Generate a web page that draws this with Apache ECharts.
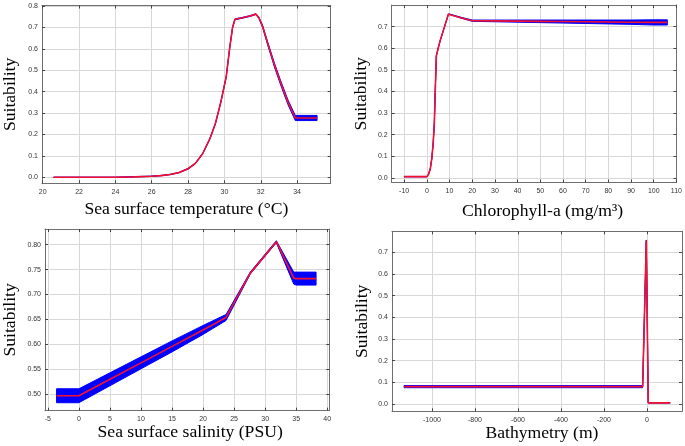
<!DOCTYPE html>
<html>
<head>
<meta charset="utf-8">
<script src="https://cdn.jsdelivr.net/npm/echarts@6/dist/echarts.min.js"></script>
<style>
html,body{margin:0;padding:0;background:#fff;}
#chart{width:685px;height:446px;}
</style>
</head>
<body>
<div id="chart"></div>
<script>
// ---------- Data ----------
// Panel 1: Sea surface temperature
var sstX    = [20.6, 22, 24, 25, 26, 26.5, 27, 27.5, 28, 28.4, 28.8, 29.2, 29.5, 29.8, 30.1, 30.3, 30.45, 30.58, 31.0, 31.4, 31.73, 31.9, 32.1, 32.4, 32.75, 33.1, 33.5, 33.9, 34.5, 35.1];
var sstMean = [0, 0, 0, 0.002, 0.005, 0.008, 0.013, 0.022, 0.04, 0.065, 0.11, 0.18, 0.25, 0.35, 0.47, 0.61, 0.70, 0.738, 0.745, 0.753, 0.762, 0.745, 0.705, 0.62, 0.525, 0.44, 0.35, 0.277, 0.277, 0.277];
var sstBand = [0.001, 0.001, 0.001, 0.001, 0.001, 0.001, 0.001, 0.001, 0.002, 0.002, 0.002, 0.002, 0.002, 0.002, 0.002, 0.002, 0.002, 0.002, 0.002, 0.002, 0.002, 0.003, 0.005, 0.007, 0.009, 0.01, 0.011, 0.012, 0.012, 0.012];
var sstTicksX = [20, 22, 24, 26, 28, 30, 32, 34];
var sstTicksY = [0, 0.1, 0.2, 0.3, 0.4, 0.5, 0.6, 0.7, 0.8];

// Panel 2: Chlorophyll-a
var chlX    = [-10, -5, 0, 0.7, 1.5, 2.2, 2.8, 3.3, 3.7, 4.2, 5, 6, 7.5, 9.5, 10, 15, 20, 30, 40, 50, 60, 70, 80, 90, 100, 106];
var chlMean = [0.005, 0.005, 0.005, 0.015, 0.04, 0.09, 0.16, 0.25, 0.40, 0.565, 0.60, 0.64, 0.69, 0.758, 0.758, 0.742, 0.728, 0.727, 0.726, 0.725, 0.724, 0.723, 0.722, 0.721, 0.72, 0.72];
var chlBand = [0.001, 0.001, 0.001, 0.001, 0.001, 0.001, 0.001, 0.001, 0.001, 0.001, 0.001, 0.001, 0.001, 0.001, 0.001, 0.002, 0.003, 0.004, 0.005, 0.006, 0.007, 0.008, 0.009, 0.01, 0.012, 0.012];
var chlTicksX = [-10, 0, 10, 20, 30, 40, 50, 60, 70, 80, 90, 100, 110];
var chlTicksY = [0, 0.1, 0.2, 0.3, 0.4, 0.5, 0.6, 0.7];

// Panel 3: Sea surface salinity
var sssX    = [-3.6, 0, 5, 10, 15, 20, 23.7, 27.6, 31.8, 34.6, 35, 38.2];
var sssMean = [0.497, 0.497, 0.530, 0.563, 0.596, 0.629, 0.654, 0.743, 0.806, 0.733, 0.732, 0.732];
var sssBand = [0.014, 0.014, 0.013, 0.012, 0.011, 0.009, 0.006, 0.002, 0.002, 0.012, 0.013, 0.013];
var sssTicksX = [-5, 0, 5, 10, 15, 20, 25, 30, 35, 40];
var sssTicksY = [0.50, 0.55, 0.60, 0.65, 0.70, 0.75, 0.80];

// Panel 4: Bathymetry
var batX    = [-1130, -20, -3, 6, 108];
var batMean = [0.08, 0.08, 0.755, 0.005, 0.005];
var batBand = [0.005, 0.005, 0.002, 0.001, 0.001];
var batTicksX = [-1000, -800, -600, -400, -200, 0];
var batTicksY = [0, 0.1, 0.2, 0.3, 0.4, 0.5, 0.6, 0.7];

// ---------- Layout / style ----------
var panels = [
  {x: sstX, m: sstMean, b: sstBand, tx: sstTicksX, ty: sstTicksY, yDec: 1,
   xr: [19.96, 35.85], yr: [-0.028, 0.8023],
   grid: {left: 39.3, top: 5.5, width: 291.4, height: 177.8},
   xName: 'Sea surface temperature (°C)', xGap: 17, xPad: 0, yGap: 23},
  {x: chlX, m: chlMean, b: chlBand, tx: chlTicksX, ty: chlTicksY, yDec: 1,
   xr: [-15.48, 110], yr: [-0.022, 0.8007],
   grid: {left: 391.7, top: 5, width: 288.6, height: 177.5},
   xName: 'Chlorophyll-a (mg/m³)', xGap: 19.5, xPad: 17, yGap: 21},
  {x: sssX, m: sssMean, b: sssBand, tx: sssTicksX, ty: sssTicksY, yDec: 2,
   xr: [-5.46, 40.33], yr: [0.467, 0.8315],
   grid: {left: 41.7, top: 229, width: 287.6, height: 181.7},
   xName: 'Sea surface salinity (PSU)', xGap: 13, xPad: 6, yGap: 26},
  {x: batX, m: batMean, b: batBand, tx: batTicksX, ty: batTicksY, yDec: 1,
   xr: [-1186, 163], yr: [-0.034, 0.797],
   grid: {left: 392, top: 231.3, width: 290, height: 180},
   xName: 'Bathymetry (m)', xGap: 11, xPad: 10, yGap: 21}
];

var boxColor = '#6e6e6e';
var gridColor = '#d8d8d8';
var tickFont = {fontFamily: 'Liberation Sans', fontSize: 7, color: '#333'};
var nameFont = {fontFamily: 'Liberation Serif', fontSize: 17.6, color: '#000'};

var grids = [], xAxes = [], yAxes = [], series = [];

panels.forEach(function (p, i) {
  grids.push({left: p.grid.left, top: p.grid.top, width: p.grid.width, height: p.grid.height, containLabel: false});
  var dec = p.yDec;
  xAxes.push({
    type: 'value', gridIndex: i, min: p.xr[0], max: p.xr[1], position: 'bottom',
    name: p.xName, nameLocation: 'middle', nameGap: p.xGap,
    nameTextStyle: Object.assign({padding: [0, 0, 0, p.xPad]}, nameFont),
    axisLine: {show: true, onZero: false, lineStyle: {color: boxColor, width: 1}},
    axisTick: {show: true, inside: true, length: 3, customValues: p.tx, lineStyle: {color: '#444'}},
    axisLabel: Object.assign({show: true, margin: 5, customValues: p.tx, formatter: function (v) { return String(v); }}, tickFont),
    splitLine: {show: true, lineStyle: {color: gridColor, width: 1}}
  });
  xAxes.push({
    type: 'value', gridIndex: i, min: p.xr[0], max: p.xr[1], position: 'top',
    axisLine: {show: true, onZero: false, lineStyle: {color: boxColor, width: 1}},
    axisTick: {show: true, inside: true, length: 3, customValues: p.tx, lineStyle: {color: '#444'}},
    axisLabel: {show: false, customValues: p.tx},
    splitLine: {show: false}
  });
  yAxes.push({
    type: 'value', gridIndex: i, min: p.yr[0], max: p.yr[1], position: 'left',
    name: 'Suitability', nameLocation: 'middle', nameGap: p.yGap, nameRotate: 90,
    nameTextStyle: nameFont,
    axisLine: {show: true, onZero: false, lineStyle: {color: boxColor, width: 1}},
    axisTick: {show: true, inside: true, length: 3, customValues: p.ty, lineStyle: {color: '#444'}},
    axisLabel: Object.assign({show: true, margin: 4, customValues: p.ty, formatter: function (v) { return Number(v).toFixed(dec); }}, tickFont),
    splitLine: {show: true, lineStyle: {color: gridColor, width: 1}}
  });
  yAxes.push({
    type: 'value', gridIndex: i, min: p.yr[0], max: p.yr[1], position: 'right',
    axisLine: {show: true, onZero: false, lineStyle: {color: boxColor, width: 1}},
    axisTick: {show: true, inside: true, length: 3, customValues: p.ty, lineStyle: {color: '#444'}},
    axisLabel: {show: false, customValues: p.ty},
    splitLine: {show: false}
  });

  var xi = i * 2, yi = i * 2;
  series.push({
    type: 'custom', xAxisIndex: xi, yAxisIndex: yi, silent: true, z: 2,
    data: [[p.x[0], p.m[0]]],
    renderItem: (function (pp) {
      return function (params, api) {
        var pts = [], k;
        for (k = 0; k < pp.x.length; k++) pts.push(api.coord([pp.x[k], pp.m[k] + pp.b[k]]));
        for (k = pp.x.length - 1; k >= 0; k--) pts.push(api.coord([pp.x[k], pp.m[k] - pp.b[k]]));
        return {
          type: 'polygon',
          shape: {points: pts},
          style: {fill: '#0000ff', stroke: '#0000ff', lineWidth: 1, lineJoin: 'round'}
        };
      };
    })(p)
  });
  series.push({
    type: 'line', xAxisIndex: xi, yAxisIndex: yi, z: 3,
    data: p.x.map(function (v, k) { return [v, p.m[k]]; }),
    showSymbol: false, symbol: 'none', smooth: false,
    lineStyle: {color: '#f5102e', width: 1.6},
    animation: false
  });
});

var chart = echarts.init(document.getElementById('chart'), null, {renderer: 'canvas'});
chart.setOption({
  animation: false,
  backgroundColor: '#fff',
  grid: grids,
  xAxis: xAxes,
  yAxis: yAxes,
  series: series
});
</script>
</body>
</html>
